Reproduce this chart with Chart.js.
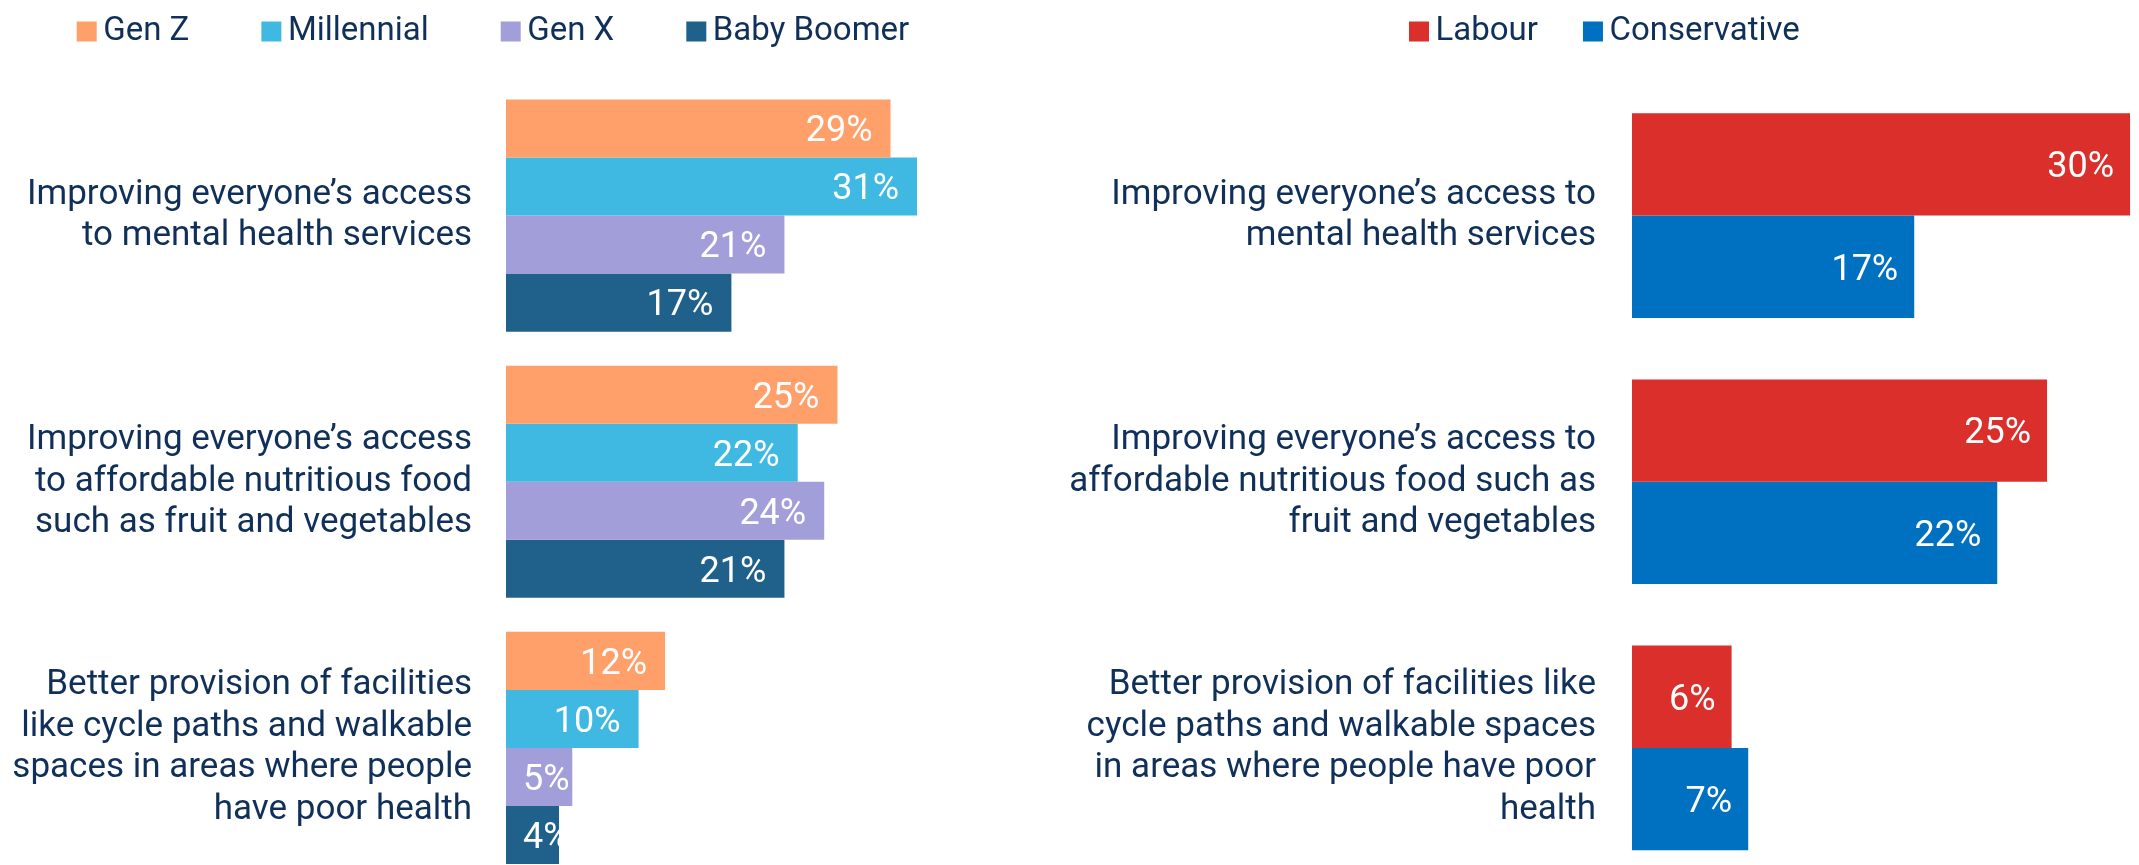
<!DOCTYPE html>
<html>
<head>
<meta charset="utf-8">
<script src="https://cdn.jsdelivr.net/npm/chart.js@4.4.1/dist/chart.umd.min.js"></script>
<style>
  html, body { margin: 0; padding: 0; background: #fff; width: 2139px; height: 865px; overflow: hidden; }
  .wrap { position: absolute; top: 0; }
  #left { left: 0; }
  #right { left: 1000px; }
</style>
</head>
<body>
<div class="wrap" id="left"><canvas id="ageChart" width="1100" height="881"></canvas></div>
<div class="wrap" id="right"><canvas id="partyChart" width="1189" height="881"></canvas></div>
<script>
(function () {
    'use strict';

    // left panel: by generation
    var ageCategories = [
        ['Improving everyone\u2019s access', 'to mental health services'],
        ['Improving everyone\u2019s access', 'to affordable nutritious food', 'such as fruit and vegetables'],
        ['Better provision of facilities', 'like cycle paths and walkable', 'spaces in areas where people', 'have poor health']
    ];
    var ageSeries = ['Gen Z', 'Millennial', 'Gen X', 'Baby Boomer'];
    var genZ = [29, 25, 12];
    var millennial = [31, 22, 10];
    var genX = [21, 24, 5];
    var babyBoomer = [17, 21, 4];

    // right panel: by party
    var partyCategories = [
        ['Improving everyone\u2019s access to', 'mental health services'],
        ['Improving everyone\u2019s access to', 'affordable nutritious food such as', 'fruit and vegetables'],
        ['Better provision of facilities like', 'cycle paths and walkable spaces', 'in areas where people have poor', 'health']
    ];
    var partySeries = ['Labour', 'Conservative'];
    var labour = [30, 25, 6];
    var conservative = [17, 22, 7];

    var NAVY = '#10305a';
    var FONT = 'Roboto, "Liberation Sans", sans-serif';
    var LEGEND_SIZE = 33;

    Chart.defaults.font.family = FONT;
    Chart.defaults.color = NAVY;

    // white % labels inside the bar end, clipped to the bar
    var barLabels = {
        id: 'barLabels',
        afterDatasetsDraw: function (chart, args, opts) {
            var ctx = chart.ctx;
            ctx.save();
            ctx.font = '36px ' + FONT;
            ctx.fillStyle = '#fff';
            ctx.textAlign = 'right';
            ctx.textBaseline = 'alphabetic';
            chart.data.datasets.forEach(function (ds, i) {
                var meta = chart.getDatasetMeta(i);
                meta.data.forEach(function (bar, j) {
                    var text = ds.data[j] + '%';
                    var w = ctx.measureText(text).width;
                    var x = Math.max(bar.x - opts.pad, bar.base + 17 + w);
                    ctx.save();
                    ctx.beginPath();
                    ctx.rect(bar.base, bar.y - bar.height / 2, bar.x - bar.base, bar.height);
                    ctx.clip();
                    ctx.fillText(text, x, bar.y + 12.8);
                    ctx.restore();
                });
            });
            ctx.restore();
        }
    };

    // left padding that puts a centred legend's first box at boxX
    function centredLegendPad(names, gap, canvasWidth, boxX) {
        var c = document.createElement('canvas').getContext('2d');
        c.font = LEGEND_SIZE + 'px ' + FONT;
        var total = 0;
        names.forEach(function (n) {
            total += 0.01 + LEGEND_SIZE / 2 + c.measureText(n).width + gap;
        });
        return 2 * boxX - gap - canvasWidth + total;
    }

    function noPadding(s) {
        s.paddingTop = 0;
        s.paddingBottom = 0;
        s.paddingLeft = 0;
        s.paddingRight = 0;
    }

    function makeOptions(cfg) {
        return {
            indexAxis: 'y',
            responsive: false,
            animation: false,
            devicePixelRatio: 1,
            layout: { padding: { top: 15 - cfg.legendGap, left: cfg.padLeft, right: 0, bottom: 0 } },
            datasets: { bar: { categoryPercentage: cfg.groupFill, barPercentage: 1 } },
            plugins: {
                tooltip: { enabled: false },
                barLabels: { pad: cfg.labelPad },
                legend: {
                    position: 'top',
                    align: cfg.align,
                    labels: {
                        usePointStyle: true,
                        pointStyle: 'rect',
                        boxWidth: 0.01,
                        boxHeight: 20,
                        padding: cfg.legendGap,
                        color: NAVY,
                        font: { size: LEGEND_SIZE }
                    }
                }
            },
            scales: {
                x: {
                    position: 'top',
                    min: 0,
                    max: cfg.max,
                    grid: { display: false, drawTicks: false },
                    border: { display: false },
                    ticks: { display: false },
                    afterFit: function (s) { noPadding(s); s.height = 24.5; }
                },
                y: {
                    grid: { display: false, drawTicks: false },
                    border: { display: false },
                    ticks: {
                        autoSkip: false,
                        padding: cfg.tickPad,
                        color: NAVY,
                        font: { size: 35, lineHeight: 1.19 }
                    },
                    afterFit: function (s) { noPadding(s); s.width = cfg.axisLeft - cfg.padLeft; }
                }
            }
        };
    }

    new Chart(document.getElementById('ageChart'), {
        type: 'bar',
        data: {
            labels: ageCategories,
            datasets: [
                { label: ageSeries[0], data: genZ, backgroundColor: '#ff9f6a' },
                { label: ageSeries[1], data: millennial, backgroundColor: '#3fb9e2' },
                { label: ageSeries[2], data: genX, backgroundColor: '#a29ed9' },
                { label: ageSeries[3], data: babyBoomer, backgroundColor: '#20618c' }
            ]
        },
        options: makeOptions({
            align: 'start', legendGap: 82, padLeft: 4.7, axisLeft: 506, max: 44.8,
            groupFill: 0.872, tickPad: 34, labelPad: 18
        }),
        plugins: [barLabels]
    });

    // this canvas runs past the window's right edge so the centred legend can sit far left
    new Chart(document.getElementById('partyChart'), {
        type: 'bar',
        data: {
            labels: partyCategories,
            datasets: [
                { label: partySeries[0], data: labour, backgroundColor: '#da2f2b' },
                { label: partySeries[1], data: conservative, backgroundColor: '#0070c0' }
            ]
        },
        options: makeOptions({
            align: 'center', legendGap: 55, padLeft: centredLegendPad(partySeries, 55, 1189, 419),
            axisLeft: 632, max: 33.55, groupFill: 0.769, tickPad: 36, labelPad: 16
        }),
        plugins: [barLabels]
    });
}());
</script>
</body>
</html>
